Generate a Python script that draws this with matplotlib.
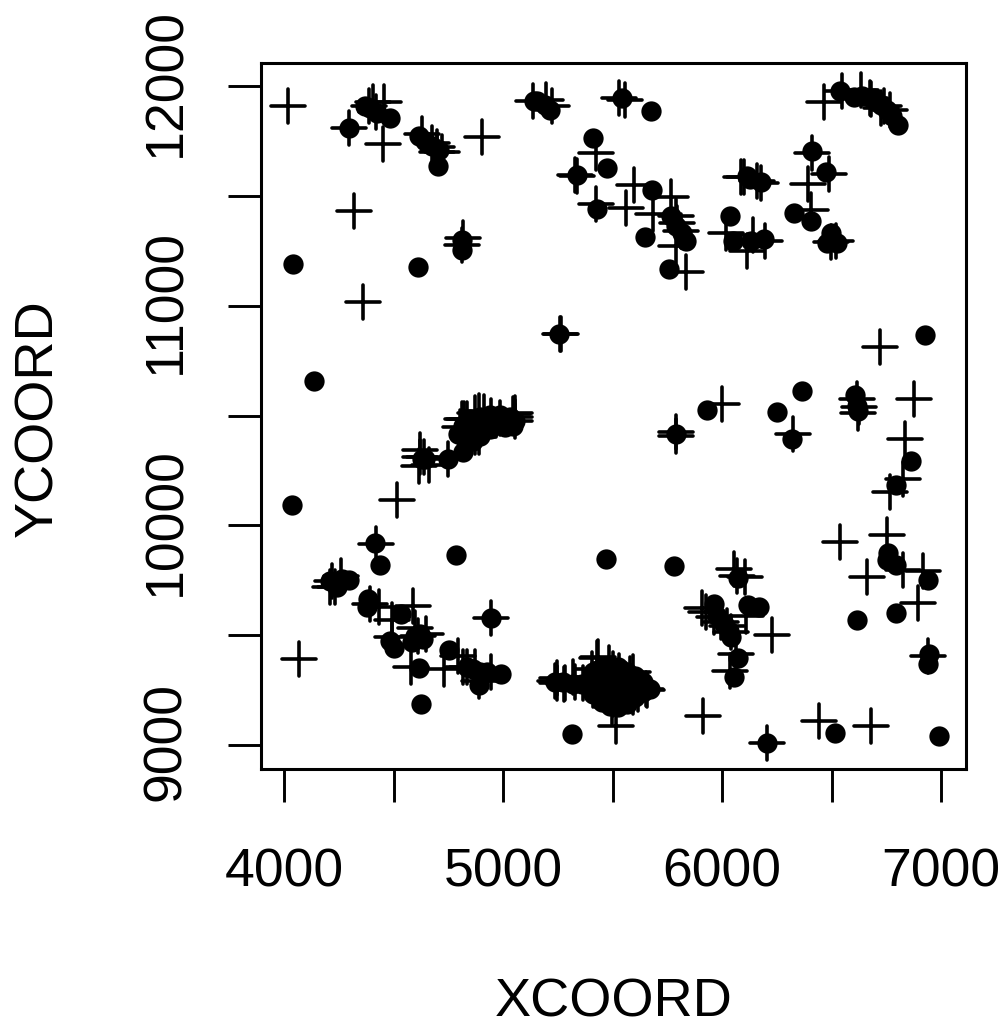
import matplotlib
matplotlib.use("Agg")
import matplotlib.pyplot as plt
from matplotlib.markers import MarkerStyle
from matplotlib.transforms import ScaledTranslation

plt.rcParams["font.family"] = ["Liberation Sans", "DejaVu Sans"]

# data: two groups of wells, crosses and dots
x_cross = [4018, 4452, 4905, 4320, 4361, 4516, 4068, 6720, 6876, 6002, 6835, 6766, 6825, 6752, 6537,
           6661, 6917, 6825, 6894, 6226, 5915, 6441, 6679, 5514, 6940, 6204, 6108, 6053, 6104, 6068,
           6062, 6035, 5907, 5925, 5962, 5994, 6040, 6021,
           4297, 4388, 4406, 4457, 4420, 4630, 4676, 4699, 4721, 4699, 4817, 4813,
           5137, 5196, 5224, 5530, 5557, 5425, 5329, 5338, 5425, 5562, 5598, 5685, 5767, 5836, 5790,
           5790, 5794, 5813, 6087, 6100, 6160, 6178, 6018, 6114, 6141, 6196, 6411, 6488, 6393, 6406,
           6498, 6520, 6466, 6548, 6635, 6676, 6680, 6726, 6767, 6740,
           5260, 5265, 4813, 4836, 4872, 4890, 4913, 4945, 4986, 5046, 5055, 5055, 5055, 4822, 4804,
           4872, 4890, 4621, 4621, 4639, 4616, 4662, 4749,
           4260, 4219, 4210, 4233, 4420, 4945, 4393, 4493, 4434, 4589, 4493, 4598, 4648, 4612,
           4580, 4730, 4795, 4817, 4836, 4872, 4890, 4945,
           5427, 5485, 5531, 5580, 5405, 5436, 5654, 5593, 5656, 5618, 5595, 5412, 5458, 5504, 5504,
           5504, 5549, 5458, 5580, 5497, 5245, 5280, 5321, 5245, 5283, 5328, 5367, 5239,
           5790, 5790, 6324, 6616, 6626, 6621]
y_cross = [11909, 11736, 11768, 11431, 11017, 10115, 9391, 10812, 10575, 10552, 10393, 10152, 10211, 9956, 9924,
           9765, 9792, 9797, 9646, 9501, 9132, 9109, 9086, 9088, 9405, 9009, 9587, 9801, 9765, 9770,
           9414, 9337, 9624, 9605, 9583, 9560, 9514, 9542,
           11809, 11909, 11927, 11927, 11881, 11781, 11740, 11722, 11699, 11699, 11308, 11276,
           11932, 11936, 11909, 11945, 11936, 11463, 11595, 11590, 11695, 11444, 11549, 11417, 11495, 11153, 11271,
           11408, 11376, 11340, 11586, 11586, 11567, 11558, 11331, 11249, 11322, 11294, 11695, 11599, 11554, 11435,
           11290, 11294, 11927, 11977, 11982, 11945, 11940, 11900, 11891, 11909,
           10871, 10871, 10484, 10484, 10511, 10520, 10516, 10498, 10489, 10507, 10511, 10493, 10475, 10484, 10448,
           10402, 10402, 10311, 10343, 10311, 10270, 10275, 10302,
           9769, 9747, 9719, 9719, 9915, 9578, 9642, 9569, 9628, 9633, 9492, 9533, 9505, 9496,
           9355, 9346, 9405, 9355, 9355, 9355, 9291, 9332,
           9398, 9375, 9337, 9322, 9344, 9399, 9255, 9334, 9249, 9234, 9219, 9249, 9300, 9346, 9270,
           9209, 9270, 9240, 9240, 9171, 9307, 9276, 9310, 9282, 9282, 9287, 9282, 9293,
           10425, 10407, 10416, 10575, 10539, 10511]

x_dot = [5783, 6615, 6794, 6991, 6515, 6940, 6944, 6940, 6204, 6757, 6752, 6794, 6117, 6168, 6072, 6072, 6053,
         5962, 5976, 6008, 6030, 6040,
         4297, 4370, 4393, 4425, 4484, 4616, 4644, 4676, 4708, 4703, 4813, 4813, 4041, 4612,
         5142, 5155, 5192, 5215, 5543, 5676, 5411, 5338, 5475, 5429, 5680, 5767, 5790, 5817, 5836, 5648, 5758,
         6114, 6130, 6178, 6036, 6050, 6132, 6192, 6329, 6406, 6411, 6475, 6498, 6479, 6525,
         6539, 6603, 6639, 6694, 6726, 6753, 6776, 6804,
         5256, 4137, 4037, 4644, 4630, 4749, 4817, 4794, 4840, 4881, 4908, 4941, 4986, 5055, 4863, 4895, 4817,
         5046, 5018, 4849, 4895, 4941, 4986, 5032, 4826, 4941, 5009,
         4210, 4242, 4297, 4265, 4416, 4438, 4785, 5470, 4626, 5315, 4945, 4384, 4379, 4534, 4484, 4502,
         4598, 4584, 4621, 4635, 4753, 4616, 4836, 4863, 4895, 4890, 4991, 4927,
         5237, 5275, 5321, 5359, 5412, 5412, 5412, 5450, 5450, 5450, 5450, 5488, 5488, 5488, 5488,
         5526, 5526, 5526, 5526, 5564, 5564, 5564, 5564, 5602, 5602, 5602, 5640, 5640, 5671,
         6927, 6365, 6251, 5931, 5790, 6320, 6607, 6616, 6621, 6863, 6794]
y_dot = [9815, 9569, 9601, 9041, 9055, 9751, 9414, 9369, 9009, 9874, 9842, 9819, 9637, 9628, 9760, 9396, 9310,
         9642, 9587, 9551, 9519, 9492,
         11809, 11909, 11900, 11877, 11854, 11772, 11749, 11727, 11708, 11636, 11299, 11253, 11190, 11176,
         11932, 11932, 11913, 11891, 11945, 11886, 11763, 11595, 11627, 11440, 11526, 11408, 11363, 11331, 11294, 11312, 11167,
         11590, 11577, 11563, 11408, 11294, 11294, 11303, 11422, 11385, 11704, 11608, 11331, 11285, 11285,
         11977, 11950, 11954, 11945, 11913, 11891, 11863, 11822,
         10871, 10657, 10092, 10302, 10302, 10302, 10334, 10416, 10438, 10470, 10448, 10475, 10493, 10475, 10384, 10407, 10452,
         10452, 10475, 10484, 10493, 10502, 10502, 10493, 10393, 10438, 10448,
         9747, 9719, 9751, 9756, 9920, 9819, 9865, 9847, 9187, 9050, 9578, 9665, 9628, 9596, 9473, 9442,
         9496, 9469, 9505, 9483, 9432, 9351, 9355, 9346, 9332, 9273, 9323, 9332,
         9285, 9285, 9278, 9278, 9331, 9270, 9232, 9354, 9300, 9240, 9194, 9361, 9300, 9240, 9179,
         9354, 9300, 9240, 9172, 9331, 9278, 9225, 9187, 9316, 9262, 9217, 9285, 9240, 9255,
         10866, 10611, 10516, 10525, 10416, 10393, 10593, 10543, 10520, 10293, 10184]

x_ticks = [4000, 4500, 5000, 5500, 6000, 6500, 7000]
x_labels = ["4000", "", "5000", "", "6000", "", "7000"]
y_ticks = [9000, 9500, 10000, 10500, 11000, 11500, 12000]
y_labels = ["9000", "", "10000", "", "11000", "", "12000"]

fig = plt.figure(figsize=(10.06, 10.20), dpi=100)
ax = fig.add_axes([261 / 1006, 1 - 770 / 1020, 705 / 1006, 706 / 1020])

cross = MarkerStyle("+", capstyle="round")
ax.plot(x_cross, y_cross, ls="none", marker=cross, ms=25, mew=2.6, color="black")
ax.plot(x_dot, y_dot, ls="none", marker="o", ms=14.6, mew=0, color="black")

ax.set_xlim(3895, 7114)
ax.set_ylim(8891, 12105)

ax.set_xticks(x_ticks)
ax.set_xticklabels(x_labels)
ax.set_yticks(y_ticks)
ax.set_yticklabels(y_labels, rotation=90, rotation_mode="anchor", ha="center", va="baseline")
ax.tick_params(length=23.5, width=2.1, labelsize=38.5)
ax.tick_params(axis="x", pad=32.5)
ax.tick_params(axis="y", pad=34.5)
for s in ax.spines.values():
    s.set_linewidth(2.2)

# the rotated labels sit a bit low, nudge them up to match
up = ScaledTranslation(0, 5 / 100, fig.dpi_scale_trans)
for lab in ax.get_yticklabels():
    lab.set_transform(lab.get_transform() + up)

fig.text(614 / 1006, 1 - 1017 / 1020, "XCOORD", fontsize=39, ha="center", va="baseline")
fig.text(52 / 1006, 1 - 418 / 1020, "YCOORD", fontsize=39, rotation=90,
         rotation_mode="anchor", ha="center", va="baseline")

fig.savefig("out.png", dpi=100)
